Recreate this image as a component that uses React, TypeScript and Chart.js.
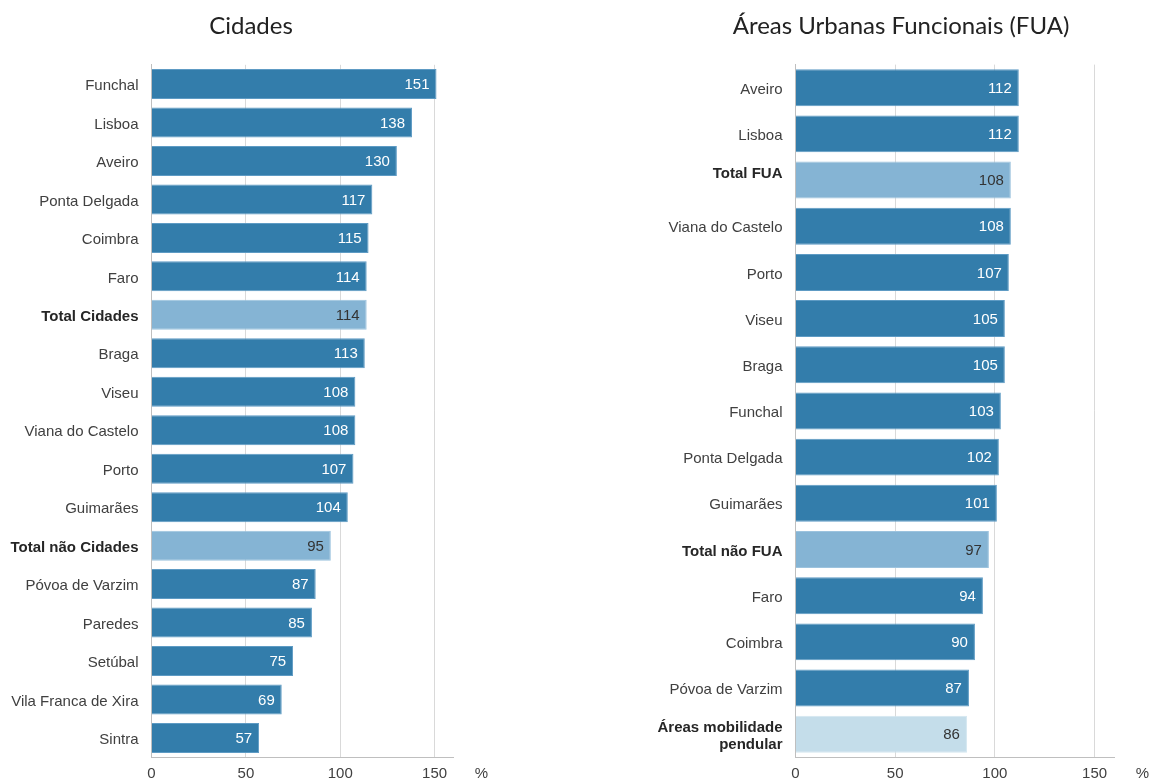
import React, { useEffect, useRef } from "react";
import { Chart, registerables } from "chart.js";

Chart.register(...registerables);

// ---------- DATA ----------
const CITY_LABELS: (string | string[])[] = [
  "Funchal", "Lisboa", "Aveiro", "Ponta Delgada", "Coimbra", "Faro", "Total Cidades",
  "Braga", "Viseu", "Viana do Castelo", "Porto", "Guimarães", "Total não Cidades",
  "Póvoa de Varzim", "Paredes", "Setúbal", "Vila Franca de Xira", "Sintra",
];
const CITY_VALUES = [151, 138, 130, 117, 115, 114, 114, 113, 108, 108, 107, 104, 95, 87, 85, 75, 69, 57];
// 0 = city, 1 = total, 2 = mobility areas
const CITY_KIND = [0, 0, 0, 0, 0, 0, 1, 0, 0, 0, 0, 0, 1, 0, 0, 0, 0, 0];

const FUA_LABELS: (string | string[])[] = [
  "Aveiro", "Lisboa", ["Total FUA", ""], "Viana do Castelo", "Porto", "Viseu", "Braga",
  "Funchal", "Ponta Delgada", "Guimarães", "Total não FUA", "Faro", "Coimbra",
  "Póvoa de Varzim", ["Áreas mobilidade", "pendular"],
];
const FUA_VALUES = [112, 112, 108, 108, 107, 105, 105, 103, 102, 101, 97, 94, 90, 87, 86];
const FUA_KIND = [0, 0, 1, 0, 0, 0, 0, 0, 0, 0, 1, 0, 0, 0, 2];

const X_TICKS = [0, 50, 100, 150];
const X_MAX = 160;

const FILL = ["#337dab", "#85b4d4", "#c4ddea"];
const BORDER = ["#5e9bc4", "#9cc3de", "#d3e6f0"];
const VALUE_COLOR = ["#ffffff", "#333333", "#333333"];
const FONT = "'Liberation Sans', Arial, sans-serif";

type PanelProps = {
  title: string;
  labels: (string | string[])[];
  values: number[];
  kinds: number[];
  left: number;
  width: number;
  axisWidth: number;
  padRight: number;
  padTop: number;
  bottomHeight: number;
  barPct: number;
};

function Panel(p: PanelProps) {
  const ref = useRef<HTMLCanvasElement | null>(null);
  useEffect(() => {
    if (!ref.current) return;
    const overlay = {
      id: "overlay",
      afterDatasetsDraw(chart: any) {
        const ctx = chart.ctx;
        const meta = chart.getDatasetMeta(0);
        ctx.save();
        ctx.font = `15px ${FONT}`;
        ctx.textAlign = "right";
        ctx.textBaseline = "middle";
        meta.data.forEach((bar: any, i: number) => {
          ctx.fillStyle = VALUE_COLOR[p.kinds[i]];
          ctx.fillText(String(p.values[i]), bar.x - 7, bar.y + 1);
        });
        ctx.restore();
      },
      afterDraw(chart: any) {
        const ctx = chart.ctx;
        ctx.save();
        ctx.font = "24px Lato, 'Open Sans', sans-serif";
        ctx.fillStyle = "#222222";
        ctx.textAlign = "center";
        ctx.textBaseline = "middle";
        ctx.fillText(p.title, 251, 26);
        ctx.font = `15px ${FONT}`;
        ctx.fillStyle = "#404040";
        ctx.fillText("%", chart.chartArea.right + 28, 774);
        ctx.restore();
      },
    };
    const chart = new Chart(ref.current, {
      type: "bar",
      data: {
        labels: p.labels,
        datasets: [
          {
            data: p.values,
            backgroundColor: p.kinds.map((k) => FILL[k]),
            borderColor: p.kinds.map((k) => BORDER[k]),
            borderWidth: 1,
            barPercentage: p.barPct,
            categoryPercentage: 1,
          },
        ],
      },
      options: {
        indexAxis: "y",
        animation: false,
        responsive: false,
        maintainAspectRatio: false,
        layout: { padding: { left: 0, right: p.padRight, top: p.padTop, bottom: 0 } },
        plugins: { legend: { display: false }, title: { display: false }, tooltip: { enabled: false } },
        scales: {
          x: {
            min: 0,
            max: X_MAX,
            afterBuildTicks(scale: any) {
              scale.ticks = X_TICKS.map((v) => ({ value: v }));
            },
            afterFit(scale: any) {
              scale.height = p.bottomHeight;
            },
            grid: { color: "#d9d9d9", lineWidth: 1, drawTicks: false },
            border: { display: true, color: "#bfbfbf" },
            ticks: {
              padding: 8,
              color: "#404040",
              font: { family: FONT, size: 15 },
            },
          },
          y: {
            afterFit(scale: any) {
              scale.width = p.axisWidth;
            },
            grid: { display: false, drawTicks: false },
            border: { display: true, color: "#bfbfbf" },
            ticks: {
              padding: 13,
              labelOffset: 2,
              color: (c: any) => (p.kinds[c.index] ? "#262626" : "#404040"),
              font: (c: any) => ({
                family: FONT,
                size: 15,
                weight: p.kinds[c.index] ? "bold" : "normal",
                lineHeight: 1.15,
              }),
            },
          },
        },
      },
      plugins: [overlay],
    } as any);
    return () => chart.destroy();
  }, []);
  return (
    <canvas
      ref={ref}
      width={p.width}
      height={780}
      style={{ position: "absolute", left: p.left, top: 0, width: p.width, height: 780 }}
    />
  );
}

export default function App() {
  return (
    <div style={{ position: "fixed", left: 0, top: 0, width: 1149, height: 780, background: "#fff" }}>
      <Panel
        title="Cidades"
        labels={CITY_LABELS}
        values={CITY_VALUES}
        kinds={CITY_KIND}
        left={0}
        width={500}
        axisWidth={151.5}
        padRight={46.5}
        padTop={64.8}
        bottomHeight={22.8}
        barPct={0.78}
      />
      <Panel
        title="Áreas Urbanas Funcionais (FUA)"
        labels={FUA_LABELS}
        values={FUA_VALUES}
        kinds={FUA_KIND}
        left={650}
        width={499}
        axisWidth={145.5}
        padRight={34.5}
        padTop={64.6}
        bottomHeight={22.7}
        barPct={0.8}
      />
    </div>
  );
}
